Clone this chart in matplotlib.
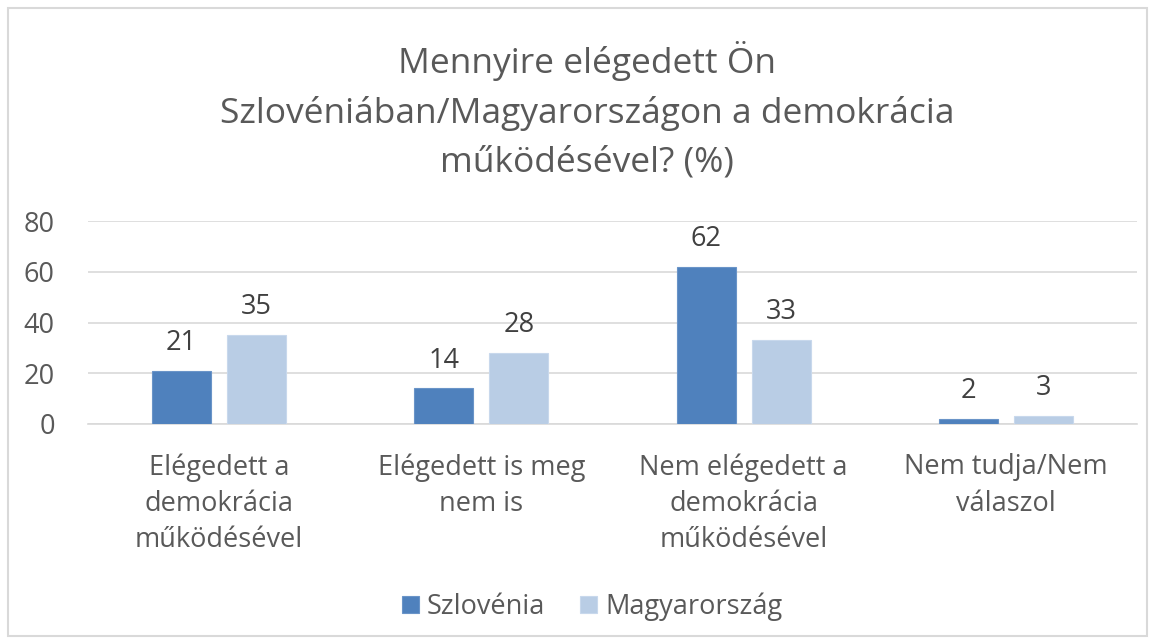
import matplotlib
matplotlib.use("Agg")
import matplotlib.pyplot as plt
from matplotlib.patches import Rectangle
import numpy as np

categories = ["Elégedett a\ndemokrácia\nműködésével", "Elégedett is meg\nnem is",
              "Nem elégedett a\ndemokrácia\nműködésével", "Nem tudja/Nem\nválaszol"]
szlovenia = [21, 14, 62, 2]
magyarorszag = [35, 28, 33, 3]
series_names = ["Szlovénia", "Magyarország"]
yticks = [0, 20, 40, 60, 80]

TXT = "#595959"
DARK = "#4F81BD"
LIGHT = "#B9CDE5"
FS = 19.5

plt.rcParams["font.family"] = ["Open Sans", "DejaVu Sans"]

fig = plt.figure(figsize=(11.55, 6.44), dpi=100)
fig.patches.append(Rectangle((8 / 1155, 8 / 644), 1139 / 1155, 628 / 644, transform=fig.transFigure,
                             fill=False, edgecolor="#D9D9D9", linewidth=1.5))

ax = fig.add_axes([88 / 1155, 1 - 424 / 644, 1049 / 1155, 203 / 644])
x = np.arange(len(categories))
w = 0.225
off = 0.143
b1 = ax.bar(x - off, szlovenia, w, color=DARK, edgecolor="#6A94C8", linewidth=0.8, label=series_names[0], zorder=3)
b2 = ax.bar(x + off, magyarorszag, w, color=LIGHT, edgecolor="#C8D8EC", linewidth=0.8, label=series_names[1], zorder=3)
for bars in (b1, b2):
    ax.bar_label(bars, padding=10, fontsize=FS, color="#404040")

ax.set_xlim(-0.5, len(categories) - 0.5)
ax.set_ylim(0, 80)
ax.set_yticks(yticks)
ax.yaxis.grid(True, color="#D9D9D9", linewidth=1.2, zorder=0)
for s in ["top", "right", "left"]:
    ax.spines[s].set_visible(False)
ax.spines["bottom"].set_color("#D9D9D9")
ax.spines["bottom"].set_linewidth(1.2)
ax.tick_params(axis="both", length=0, labelsize=FS, colors=TXT)
ax.tick_params(axis="y", pad=24)
ax.tick_params(axis="x", pad=21)
ax.set_xticks(x)
ax.set_xticklabels(categories, linespacing=1.4)

fig.text(587 / 1155, 1 - 110 / 644, "Mennyire elégedett Ön\nSzlovéniában/Magyarországon a demokrácia\nműködésével? (%)",
         ha="center", va="center", fontsize=25.5, color=TXT, linespacing=1.55)

fig.legend(handles=[b1, b2], loc="center", bbox_to_anchor=(592 / 1155, 1 - 607 / 644), ncol=2, frameon=False,
           fontsize=FS, labelcolor=TXT, handlelength=0.62, handleheight=0.62, handletextpad=0.3,
           columnspacing=1.3)

fig.savefig("out.png", dpi=100)
